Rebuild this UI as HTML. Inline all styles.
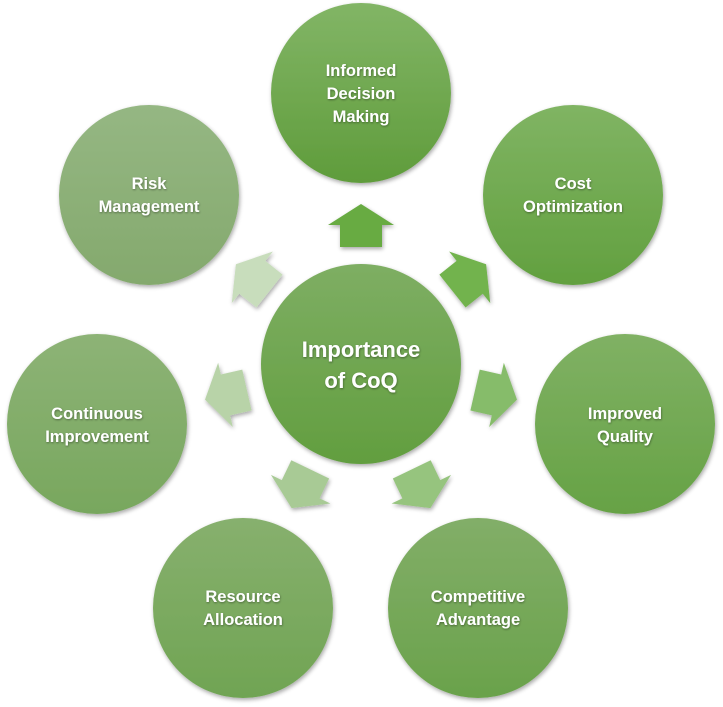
<!DOCTYPE html>
<html><head><meta charset="utf-8"><style>
html,body{margin:0;padding:0;background:#fff;}
svg{display:block;}
text{font-family:"Liberation Sans",sans-serif;font-weight:bold;fill:#fff;text-anchor:middle;}
</style></head><body>
<svg width="723" height="707" viewBox="0 0 723 707" xmlns="http://www.w3.org/2000/svg">
<defs>
<filter id="sh" x="-20%" y="-20%" width="140%" height="140%"><feGaussianBlur in="SourceAlpha" stdDeviation="2"/><feOffset dx="1" dy="2"/><feComponentTransfer><feFuncA type="linear" slope="0.35"/></feComponentTransfer><feMerge><feMergeNode/><feMergeNode in="SourceGraphic"/></feMerge></filter>
<filter id="ts"><feGaussianBlur in="SourceAlpha" stdDeviation="1"/><feOffset dx="0.5" dy="1"/><feComponentTransfer><feFuncA type="linear" slope="0.4"/></feComponentTransfer><feMerge><feMergeNode/><feMergeNode in="SourceGraphic"/></feMerge></filter>
<linearGradient id="g0" x1="0" y1="0" x2="0" y2="1"><stop offset="0" stop-color="#82b566"/><stop offset="1" stop-color="#5f9c3b"/></linearGradient>
<linearGradient id="g1" x1="0" y1="0" x2="0" y2="1"><stop offset="0" stop-color="#80b463"/><stop offset="1" stop-color="#62a03f"/></linearGradient>
<linearGradient id="g2" x1="0" y1="0" x2="0" y2="1"><stop offset="0" stop-color="#80b164"/><stop offset="1" stop-color="#66a245"/></linearGradient>
<linearGradient id="g3" x1="0" y1="0" x2="0" y2="1"><stop offset="0" stop-color="#82ae68"/><stop offset="1" stop-color="#6aa24b"/></linearGradient>
<linearGradient id="g4" x1="0" y1="0" x2="0" y2="1"><stop offset="0" stop-color="#87b06e"/><stop offset="1" stop-color="#70a453"/></linearGradient>
<linearGradient id="g5" x1="0" y1="0" x2="0" y2="1"><stop offset="0" stop-color="#8db376"/><stop offset="1" stop-color="#78a75e"/></linearGradient>
<linearGradient id="g6" x1="0" y1="0" x2="0" y2="1"><stop offset="0" stop-color="#95b783"/><stop offset="1" stop-color="#84a96d"/></linearGradient>
<linearGradient id="gc" x1="0" y1="0" x2="0" y2="1"><stop offset="0" stop-color="#7eae63"/><stop offset="1" stop-color="#629e3f"/></linearGradient>
</defs>

<g filter="url(#sh)">
<circle cx="361" cy="93" r="90" fill="url(#g0)"/>
<circle cx="573" cy="195" r="90" fill="url(#g1)"/>
<circle cx="625" cy="424" r="90" fill="url(#g2)"/>
<circle cx="478" cy="608" r="90" fill="url(#g3)"/>
<circle cx="243" cy="608" r="90" fill="url(#g4)"/>
<circle cx="97" cy="424" r="90" fill="url(#g5)"/>
<circle cx="149" cy="195" r="90" fill="url(#g6)"/>
<circle cx="361" cy="364" r="100" fill="url(#gc)"/>
</g>

<g filter="url(#sh)">
<g transform="translate(361,364) rotate(0) translate(0,-138)"><polygon points="0,-22 33,-1 21,-1 21,21 -21,21 -21,-1 -33,-1" fill="#67ab43"/></g>
<g transform="translate(361,364) rotate(51.43) translate(0,-138)"><polygon points="0,-22 33,-1 21,-1 21,21 -21,21 -21,-1 -33,-1" fill="#72b34d"/></g>
<g transform="translate(361,364) rotate(102.86) translate(0,-138)"><polygon points="0,-22 33,-1 21,-1 21,21 -21,21 -21,-1 -33,-1" fill="#86bc6a"/></g>
<g transform="translate(361,364) rotate(154.29) translate(0,-138)"><polygon points="0,-22 33,-1 21,-1 21,21 -21,21 -21,-1 -33,-1" fill="#96c47e"/></g>
<g transform="translate(361,364) rotate(205.71) translate(0,-138)"><polygon points="0,-22 33,-1 21,-1 21,21 -21,21 -21,-1 -33,-1" fill="#a8ca95"/></g>
<g transform="translate(361,364) rotate(257.14) translate(0,-138)"><polygon points="0,-22 33,-1 21,-1 21,21 -21,21 -21,-1 -33,-1" fill="#b8d3a8"/></g>
<g transform="translate(361,364) rotate(308.57) translate(0,-138)"><polygon points="0,-22 33,-1 21,-1 21,21 -21,21 -21,-1 -33,-1" fill="#c8ddbc"/></g>
</g>

<g filter="url(#ts)" font-size="16.5">
<text x="361" y="76">Informed</text>
<text x="361" y="99">Decision</text>
<text x="361" y="122">Making</text>
<text x="573" y="189">Cost</text>
<text x="573" y="212">Optimization</text>
<text x="625" y="419">Improved</text>
<text x="625" y="442">Quality</text>
<text x="478" y="602">Competitive</text>
<text x="478" y="625">Advantage</text>
<text x="243" y="602">Resource</text>
<text x="243" y="625">Allocation</text>
<text x="97" y="419">Continuous</text>
<text x="97" y="442">Improvement</text>
<text x="149" y="189">Risk</text>
<text x="149" y="212">Management</text>
<text x="361" y="357" font-size="22">Importance</text>
<text x="361" y="388" font-size="22">of CoQ</text>
</g>
</svg>
</body></html>
